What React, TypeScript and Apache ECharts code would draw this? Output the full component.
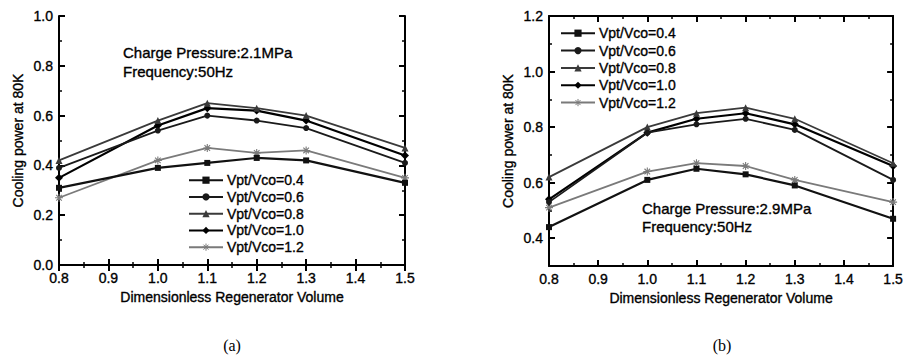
import React, { useEffect, useRef } from "react";
import * as echarts from "echarts";

const xValues = [0.8, 1.0, 1.1, 1.2, 1.3, 1.5];
const seriesNames = ["Vpt/Vco=0.4", "Vpt/Vco=0.6", "Vpt/Vco=0.8", "Vpt/Vco=1.0", "Vpt/Vco=1.2"];

// (a) Charge pressure 2.1 MPa
const a04 = [0.31, 0.39, 0.41, 0.43, 0.42, 0.33];
const a06 = [0.39, 0.54, 0.60, 0.58, 0.55, 0.41];
const a08 = [0.42, 0.58, 0.65, 0.63, 0.60, 0.47];
const a10 = [0.35, 0.56, 0.63, 0.62, 0.58, 0.44];
const a12 = [0.27, 0.42, 0.47, 0.45, 0.46, 0.35];

// (b) Charge pressure 2.9 MPa
const b04 = [0.44, 0.61, 0.65, 0.63, 0.59, 0.47];
const b06 = [0.53, 0.78, 0.81, 0.83, 0.79, 0.61];
const b08 = [0.62, 0.80, 0.85, 0.87, 0.83, 0.67];
const b10 = [0.54, 0.78, 0.83, 0.85, 0.81, 0.66];
const b12 = [0.51, 0.64, 0.67, 0.66, 0.61, 0.53];

const xTicks = [0.8, 0.9, 1.0, 1.1, 1.2, 1.3, 1.4, 1.5];
const yTicksA = [0.0, 0.2, 0.4, 0.6, 0.8, 1.0];
const yTicksB = [0.4, 0.6, 0.8, 1.0, 1.2];
const yMinorB = [0.5, 0.7, 0.9, 1.1];

const FONT = "'Liberation Sans', Arial, Helvetica, sans-serif";
const SERIF = "'Liberation Serif', 'Times New Roman', serif";
const ASTERISK = "path://M0,5L10,5M5,0L5,10M1.5,1.5L8.5,8.5M8.5,1.5L1.5,8.5";

const styles = [
  { symbol: "rect", size: 6, color: "#111", width: 2.2 },
  { symbol: "circle", size: 6, color: "#1a1a1a", width: 1.8 },
  { symbol: "triangle", size: 7, color: "#3a3a3a", width: 1.8 },
  { symbol: "diamond", size: 8, color: "#000", width: 2.2 },
  { symbol: ASTERISK, size: 8, color: "#7a7a7a", width: 1.8 },
];

export default function App() {
  const ref = useRef<HTMLDivElement>(null);
  useEffect(() => {
    if (!ref.current) return;
    const chart = echarts.init(ref.current, null, { renderer: "svg" });
    const thick = { textBorderColor: "#000", textBorderWidth: 0.35 };
    const axisLine = { show: true, lineStyle: { color: "#000", width: 2 } };
    const label = { color: "#000", fontSize: 14, fontFamily: FONT, margin: 6, ...thick };
    const nameStyle = { color: "#000", fontSize: 14, fontFamily: FONT, ...thick };
    const tick = { show: true, inside: true, length: 6, lineStyle: { color: "#000", width: 2 } };
    const minor = { show: true, splitNumber: 2, length: 3, lineStyle: { color: "#000", width: 1.5 } };
    const fmt = (v: number) => v.toFixed(1);

    const xAxisFor = (gridIndex: number, top: boolean) => ({
      type: "value",
      gridIndex,
      position: top ? "top" : "bottom",
      min: 0.8,
      max: 1.5,
      interval: 0.1,
      axisLine,
      axisTick: tick,
      minorTick: minor,
      splitLine: { show: false },
      axisLabel: top ? { show: false } : { ...label, formatter: fmt, customValues: xTicks },
      name: top ? "" : "Dimensionless Regenerator Volume",
      nameLocation: "middle",
      nameGap: 19,
      nameTextStyle: nameStyle,
    });

    const yAxisA = (right: boolean) => ({
      type: "value",
      gridIndex: 0,
      position: right ? "right" : "left",
      min: 0,
      max: 1.0,
      interval: 0.2,
      axisLine,
      axisTick: tick,
      minorTick: minor,
      splitLine: { show: false },
      axisLabel: right ? { show: false } : { ...label, formatter: fmt, customValues: yTicksA },
      name: right ? "" : "Cooling power at 80K",
      nameLocation: "middle",
      nameGap: 34,
      nameTextStyle: nameStyle,
    });

    const yAxisB = (right: boolean) => ({
      type: "value",
      gridIndex: 1,
      position: right ? "right" : "left",
      min: 0.3,
      max: 1.2,
      axisLine,
      axisTick: { ...tick, customValues: yTicksB },
      splitLine: { show: false },
      axisLabel: right ? { show: false } : { ...label, formatter: fmt, customValues: yTicksB },
      name: right ? "" : "Cooling power at 80K",
      nameLocation: "middle",
      nameGap: 34,
      nameTextStyle: nameStyle,
    });

    const yAxisBMinor = (right: boolean) => ({
      type: "value",
      gridIndex: 1,
      position: right ? "right" : "left",
      min: 0.3,
      max: 1.2,
      axisLine: { show: false },
      axisTick: { show: true, inside: true, length: 3, lineStyle: { color: "#000", width: 1.5 }, customValues: yMinorB },
      splitLine: { show: false },
      axisLabel: { show: false },
    });

    const dataA = [a04, a06, a08, a10, a12];
    const dataB = [b04, b06, b08, b10, b12];

    const mkSeries = (vals: number[], i: number, xi: number, yi: number) => {
      const s = styles[i];
      const isAst = i === 4;
      return {
        type: "line",
        name: seriesNames[i],
        xAxisIndex: xi,
        yAxisIndex: yi,
        data: xValues.map((x, k) => [x, vals[k]]),
        symbol: s.symbol,
        symbolSize: s.size,
        showSymbol: true,
        lineStyle: { color: s.color, width: s.width },
        itemStyle: isAst
          ? { color: "rgba(0,0,0,0)", borderColor: s.color, borderWidth: 1.1 }
          : { color: s.color, borderColor: s.color, borderWidth: 0 },
        z: 5 - i,
      };
    };

    const series: any[] = [];
    dataA.forEach((v, i) => series.push(mkSeries(v, i, 0, 0)));
    dataB.forEach((v, i) => series.push(mkSeries(v, i, 2, 2)));

    const legendData = seriesNames.map((name, i) =>
      i === 4
        ? { name, itemStyle: { color: "rgba(0,0,0,0)", borderColor: styles[4].color, borderWidth: 1 } }
        : { name }
    );

    const legendBase = {
      orient: "vertical",
      itemWidth: 34,
      itemHeight: 9,
      data: legendData,
      selectedMode: false,
      textStyle: { color: "#000", fontSize: 14, fontFamily: FONT, padding: [0, 0, 0, -1], ...thick },
      padding: 0,
    };

    const txt = (x: number, y: number, text: string, size = 14, family = FONT, align = "left", bold = true) => ({
      type: "text",
      x,
      y,
      style: {
        text,
        fill: "#000",
        fontSize: size,
        fontFamily: family,
        textAlign: align,
        textVerticalAlign: "middle",
        ...(bold ? { stroke: "#000", lineWidth: 0.35 } : {}),
      },
    });

    chart.setOption({
      animation: false,
      backgroundColor: "#fff",
      grid: [
        { left: 59, top: 16, width: 346, height: 249 },
        { left: 549, top: 16, width: 347, height: 250 },
      ],
      xAxis: [xAxisFor(0, false), xAxisFor(0, true), xAxisFor(1, false), xAxisFor(1, true)],
      yAxis: [yAxisA(false), yAxisA(true), yAxisB(false), yAxisB(true), yAxisBMinor(false), yAxisBMinor(true)],
      legend: [
        { ...legendBase, left: 188, top: 173, itemGap: 2.4 },
        { ...legendBase, left: 560, top: 26, itemGap: 3 },
      ],
      series,
      graphic: [
        txt(123, 52, "Charge Pressure:2.1MPa", 15),
        txt(123, 71, "Frequency:50Hz", 15),
        txt(642, 208, "Charge Pressure:2.9MPa", 15),
        txt(642, 226, "Frequency:50Hz", 15),
        txt(232, 345, "(a)", 16, SERIF, "center", false),
        txt(722, 345, "(b)", 16, SERIF, "center", false),
      ],
    });
    return () => chart.dispose();
  }, []);
  return <div ref={ref} style={{ position: "absolute", left: 0, top: 0, width: 906, height: 362 }} />;
}
